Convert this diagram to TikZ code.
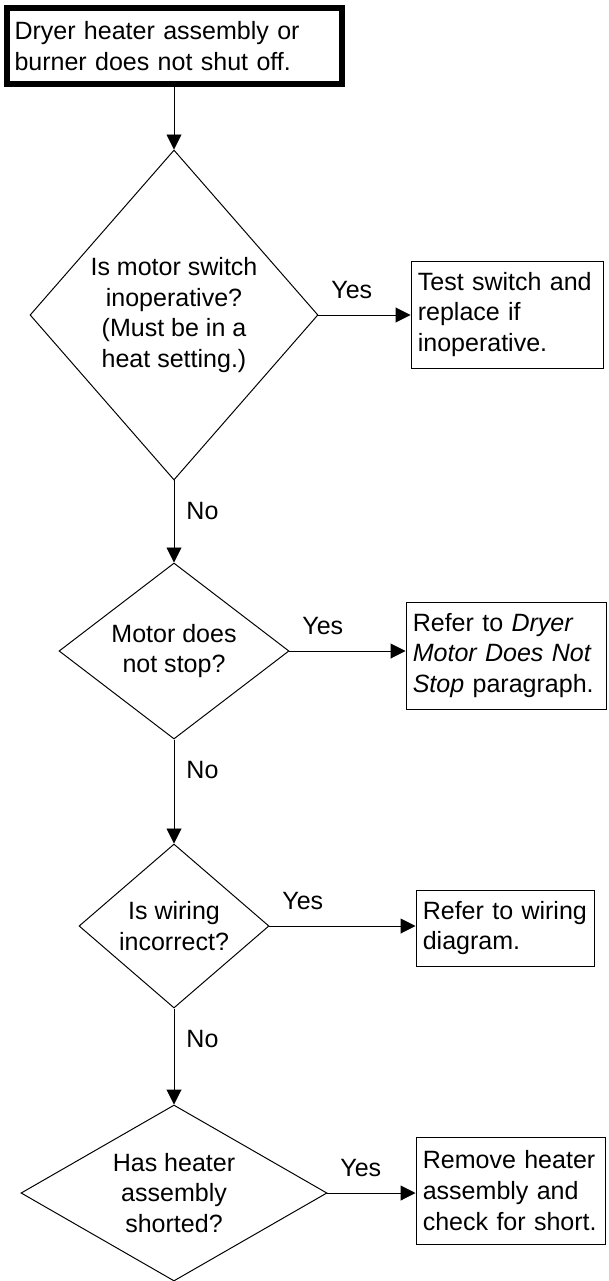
\documentclass[tikz,border=0pt]{standalone}
\usepackage{fontspec}
\setmainfont{Liberation Sans}
\usetikzlibrary{shapes.geometric,arrows.meta}

\begin{document}
\begin{tikzpicture}[
  every node/.style={font=\fontsize{17.8}{22}\selectfont},
  startbox/.style={draw, line width=0.15cm, inner xsep=0.2cm, inner ysep=0pt, text width=7.975cm, minimum height=1.9cm, align=left},
  decision/.style={draw, diamond, line width=0.7pt, inner sep=0pt, align=center},
  answerbox/.style={draw, line width=0.7pt, inner xsep=0.17cm, inner ysep=0pt, align=left},
  arr/.style={line width=0.7pt, -{Triangle[length=0.375cm,width=0.375cm]}},
  yeslabel/.style={pos=0, anchor=south west, inner sep=0pt, xshift=0.31cm, yshift=0.4cm},
  nolabel/.style={pos=0, anchor=north west, inner sep=0pt, xshift=0.3cm, yshift=-0.525cm}]
\useasboundingbox (0,0) rectangle (15.2,-32.025);
% start
\node[startbox] (start) at (4.35,-1.15) {Dryer heater assembly or\\burner does not shut off.};
% questions
\node[decision, minimum width=7.2cm, minimum height=8.25cm, aspect=0.87] (switch) at (4.35,-7.875) {Is motor switch\\inoperative?\\(Must be in a\\heat setting.)};
\node[decision, minimum width=5.75cm, minimum height=4.4cm, aspect=1.31] (motor) at (4.35,-16.275) {Motor does\\not stop?};
\node[decision, minimum width=4.75cm, minimum height=4.1cm, aspect=1.16] (wiring) at (4.35,-23.15) {Is wiring\\incorrect?};
\node[decision, minimum width=7.65cm, minimum height=4.4cm, aspect=1.74] (heater) at (4.35,-29.825) {Has heater\\assembly\\shorted?};
% answers
\node[answerbox, text width=4.46cm, minimum height=2.675cm] (testsw) at (12.675,-7.8625) {Test switch and\\replace if\\inoperative.};
\node[answerbox, text width=4.66cm, minimum height=2.675cm] (refmotor) at (12.65,-16.3875) {Refer to \textit{Dryer}\\\textit{Motor Does Not}\\\textit{Stop} paragraph.};
\node[answerbox, text width=4.11cm, minimum height=1.9cm] (refwiring) at (12.625,-23.2) {Refer to wiring\\diagram.};
\node[answerbox, text width=4.385cm, minimum height=2.675cm] (remove) at (12.7625,-29.7625) {Remove heater\\assembly and\\check for short.};
% flow
\draw[arr] (start) -- (switch);
\draw[arr] (switch) -- node[nolabel] {No} (motor);
\draw[arr] (motor) -- node[nolabel] {No} (wiring);
\draw[arr] (wiring) -- node[nolabel] {No} (heater);
\draw[arr] (switch.east) -- node[yeslabel] {Yes} (switch.east -| testsw.west);
\draw[arr] (motor.east) -- node[yeslabel] {Yes} (motor.east -| refmotor.west);
\draw[arr] (wiring.east) -- node[yeslabel] {Yes} (wiring.east -| refwiring.west);
\draw[arr] (heater.east) -- node[yeslabel] {Yes} (heater.east -| remove.west);
\end{tikzpicture}
\end{document}
